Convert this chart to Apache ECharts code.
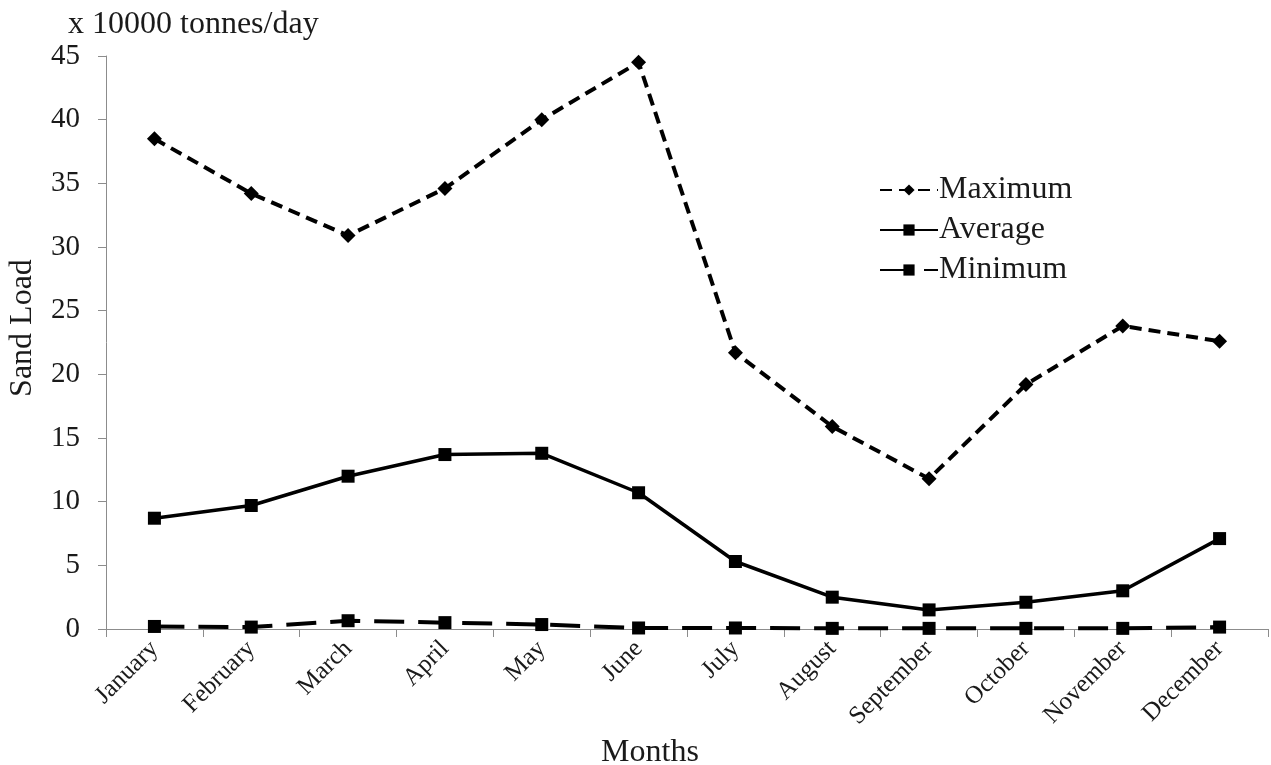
<!DOCTYPE html>
<html>
<head>
<meta charset="utf-8">
<script src="https://cdn.jsdelivr.net/npm/echarts@6/dist/echarts.min.js"></script>
<style>
html,body{margin:0;padding:0;background:#fff;}
#chart{width:1271px;height:765px;}
</style>
</head>
<body>
<div id="chart"></div>
<script>
const months = ['January','February','March','April','May','June','July','August','September','October','November','December'];
const maximum = [38.5, 34.2, 30.9, 34.6, 40.0, 44.5, 21.7, 15.9, 11.8, 19.2, 23.8, 22.6];
const average = [8.7, 9.7, 12.0, 13.7, 13.8, 10.7, 5.3, 2.5, 1.5, 2.1, 3.0, 7.1];
const minimum = [0.2, 0.15, 0.65, 0.5, 0.35, 0.08, 0.08, 0.05, 0.05, 0.05, 0.05, 0.15];
const yTicks = [0, 5, 10, 15, 20, 25, 30, 35, 40, 45];

const FONT = '"Liberation Serif", "DejaVu Serif", serif';
const chart = echarts.init(document.getElementById('chart'));
chart.setOption({
  animation: false,
  backgroundColor: '#fff',
  textStyle: { fontFamily: FONT },
  title: {
    text: 'x 10000 tonnes/day',
    left: 63, top: 4,
    textStyle: { fontFamily: FONT, fontSize: 32, fontWeight: 'normal', color: '#1a1a1a' }
  },
  legend: {
    orient: 'vertical',
    left: 874, top: 169,
    itemWidth: 58, itemHeight: 14, itemGap: 8,
    textStyle: { fontFamily: FONT, fontSize: 32, color: '#1a1a1a', padding: [0,0,0,-4] },
    data: ['Maximum', 'Average', 'Minimum']
  },
  grid: { left: 106, right: 3, top: 56, bottom: 136, outerBoundsMode: 'none', containLabel: false },
  xAxis: {
    type: 'category',
    data: months,
    boundaryGap: true,
    name: 'Months',
    nameLocation: 'middle',
    nameGap: 104,
    nameTextStyle: { fontFamily: FONT, fontSize: 32, color: '#1a1a1a', padding: [0, 74, 0, 0] },
    axisLine: { lineStyle: { color: '#8c8c8c', width: 1 } },
    axisTick: { show: true, length: 8, lineStyle: { color: '#8c8c8c' } },
    axisLabel: { rotate: 45, fontFamily: FONT, fontSize: 25, color: '#1a1a1a', margin: 16 }
  },
  yAxis: {
    type: 'value',
    min: 0, max: 45, interval: 5,
    name: 'Sand Load',
    nameLocation: 'middle',
    nameGap: 67,
    nameRotate: 90,
    nameTextStyle: { fontFamily: FONT, fontSize: 32, color: '#1a1a1a', padding: [0, 0, 0, 29] },
    splitLine: { show: false },
    axisLine: { show: true, lineStyle: { color: '#8c8c8c', width: 1 } },
    axisTick: { show: true, length: 8, lineStyle: { color: '#8c8c8c' } },
    axisLabel: {
      fontFamily: FONT, fontSize: 29, color: '#1a1a1a', margin: 26,
      formatter: v => yTicks.includes(v) ? String(v) : ''
    }
  },
  series: [
    {
      name: 'Maximum', type: 'line', data: maximum,
      symbol: 'diamond', symbolSize: 15,
      itemStyle: { color: '#000' },
      lineStyle: { color: '#000', width: 4, type: [12, 7] }
    },
    {
      name: 'Average', type: 'line', data: average,
      symbol: 'rect', symbolSize: 13,
      itemStyle: { color: '#000' },
      lineStyle: { color: '#000', width: 3.5, type: 'solid' }
    },
    {
      name: 'Minimum', type: 'line', data: minimum,
      symbol: 'rect', symbolSize: 13,
      itemStyle: { color: '#000' },
      lineStyle: { color: '#000', width: 4, type: [30, 14] }
    }
  ]
});
</script>
</body>
</html>
